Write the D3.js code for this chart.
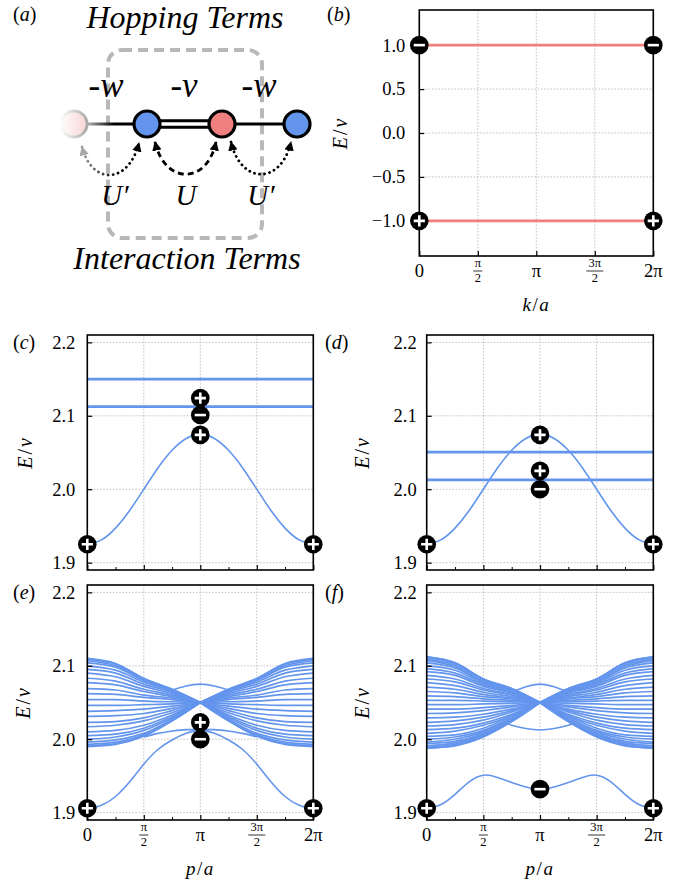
<!DOCTYPE html>
<html>
<head>
<meta charset="utf-8">
<script src="https://cdn.jsdelivr.net/npm/d3@7"></script>
<style>
body { margin: 0; background: #fff; }
svg { display: block; font-family: "Liberation Serif", "Times New Roman", serif; }
</style>
</head>
<body>
<svg id="fig" width="696" height="892"></svg>
<script>
const PI = Math.PI;

// ---- DATA -------------------------------------------------------------
const xTickVals = [0, PI / 2, PI, 3 * PI / 2, 2 * PI];
const xTickLabels = ["0", "\u03c0/2", "\u03c0", "3\u03c0/2", "2\u03c0"];
const xMinorVals = [PI / 4, 3 * PI / 4, 5 * PI / 4, 7 * PI / 4];
const bandP = [0, PI / 4, PI / 2, 3 * PI / 4, PI];          // left half, mirrored on the right
const curveP = [0, PI / 8, PI / 4, 3 * PI / 8, PI / 2, 5 * PI / 8, 3 * PI / 4, 7 * PI / 8, PI];

// (b) single particle bands
const bTicks = [-1.0, -0.5, 0.0, 0.5, 1.0];
const bLevels = [1.0, -1.0];
const bMarks = [
  {p: 0, E: 1.0, s: "-"}, {p: 2 * PI, E: 1.0, s: "-"},
  {p: 0, E: -1.0, s: "+"}, {p: 2 * PI, E: -1.0, s: "+"}
];

const twoTicks = [1.9, 2.0, 2.1, 2.2];

// (c)
const cLevels = [2.15, 2.1125];
const cCurve = [1.925, 1.931, 1.947, 1.971, 2.0, 2.029, 2.053, 2.069, 2.075];
const cMarks = [
  {p: 0, E: 1.925, s: "+"}, {p: 2 * PI, E: 1.925, s: "+"},
  {p: PI, E: 2.124, s: "+"}, {p: PI, E: 2.101, s: "-"}, {p: PI, E: 2.074, s: "+"}
];

// (d)
const dLevels = [2.0505, 2.0128];
const dCurve = [1.925, 1.931, 1.947, 1.971, 2.0, 2.029, 2.053, 2.069, 2.075];
const dMarks = [
  {p: 0, E: 1.925, s: "+"}, {p: 2 * PI, E: 1.925, s: "+"},
  {p: PI, E: 2.074, s: "+"}, {p: PI, E: 2.025, s: "+"}, {p: PI, E: 2.0, s: "-"}
];

// (e) two-particle continuum, energies at p = 0, pi/4, pi/2, 3pi/4, pi
const eBand = [
  [2.110, 2.103, 2.083, 2.068, 2.05], [2.109, 2.102, 2.082, 2.068, 2.05],
  [2.107, 2.100, 2.081, 2.067, 2.05], [2.104, 2.098, 2.080, 2.066, 2.05],
  [2.100, 2.094, 2.078, 2.065, 2.05], [2.095, 2.090, 2.075, 2.064, 2.05],
  [2.090, 2.085, 2.072, 2.062, 2.05], [2.083, 2.079, 2.068, 2.060, 2.05],
  [2.077, 2.074, 2.065, 2.058, 2.05], [2.069, 2.067, 2.060, 2.056, 2.05],
  [2.062, 2.061, 2.057, 2.054, 2.05], [2.054, 2.054, 2.052, 2.051, 2.05],
  [2.046, 2.046, 2.047, 2.048, 2.05], [2.038, 2.039, 2.041, 2.045, 2.05],
  [2.031, 2.032, 2.035, 2.042, 2.05], [2.023, 2.024, 2.029, 2.039, 2.05],
  [2.017, 2.019, 2.025, 2.036, 2.05], [2.010, 2.012, 2.019, 2.033, 2.05],
  [2.005, 2.007, 2.015, 2.031, 2.05], [2.000, 2.003, 2.012, 2.029, 2.05],
  [1.996, 1.999, 2.008, 2.027, 2.05], [1.993, 1.996, 2.006, 2.026, 2.05],
  [1.991, 1.994, 2.005, 2.025, 2.05], [1.990, 1.993, 2.004, 2.025, 2.05]
];
const eLow = [1.905, 1.910, 1.922, 1.942, 1.966, 1.986, 1.999, 2.008, 2.012];
const eMidP = [PI / 2, 5 * PI / 8, 3 * PI / 4, 7 * PI / 8, PI];
const eMid = [2.003, 2.008, 2.011, 2.013, 2.013];
const eTopP = [3 * PI / 4, 7 * PI / 8, PI];
const eTop = [2.067, 2.0725, 2.075];
const eMarks = [
  {p: 0, E: 1.906, s: "+"}, {p: 2 * PI, E: 1.906, s: "+"},
  {p: PI, E: 2.023, s: "+"}, {p: PI, E: 2.0, s: "-"}
];

// (f)
const fBand = [
  [2.112, 2.104, 2.082, 2.069, 2.05], [2.112, 2.104, 2.082, 2.069, 2.05],
  [2.111, 2.103, 2.082, 2.068, 2.05], [2.109, 2.101, 2.081, 2.068, 2.05],
  [2.107, 2.099, 2.079, 2.067, 2.05], [2.104, 2.097, 2.078, 2.066, 2.05],
  [2.100, 2.094, 2.076, 2.065, 2.05], [2.096, 2.090, 2.074, 2.064, 2.05],
  [2.092, 2.087, 2.072, 2.063, 2.05], [2.087, 2.082, 2.069, 2.061, 2.05],
  [2.082, 2.078, 2.067, 2.060, 2.05], [2.077, 2.073, 2.064, 2.058, 2.05],
  [2.071, 2.068, 2.061, 2.056, 2.05], [2.065, 2.063, 2.058, 2.055, 2.05],
  [2.059, 2.058, 2.055, 2.053, 2.05], [2.053, 2.053, 2.052, 2.051, 2.05],
  [2.047, 2.047, 2.048, 2.049, 2.05], [2.041, 2.041, 2.043, 2.046, 2.05],
  [2.035, 2.036, 2.039, 2.044, 2.05], [2.029, 2.030, 2.034, 2.041, 2.05],
  [2.023, 2.025, 2.030, 2.039, 2.05], [2.018, 2.020, 2.026, 2.037, 2.05],
  [2.013, 2.015, 2.022, 2.034, 2.05], [2.008, 2.011, 2.019, 2.032, 2.05],
  [2.004, 2.006, 2.015, 2.031, 2.05], [2.000, 2.003, 2.012, 2.029, 2.05],
  [1.996, 2.000, 2.010, 2.028, 2.05], [1.994, 1.997, 2.008, 2.026, 2.05],
  [1.991, 1.995, 2.006, 2.025, 2.05], [1.989, 1.993, 2.005, 2.025, 2.05],
  [1.988, 1.992, 2.004, 2.024, 2.05], [1.988, 1.991, 2.003, 2.024, 2.05]
];
const fLow = [1.905, 1.911, 1.925, 1.942, 1.951, 1.948, 1.941, 1.935, 1.932];
const fMidP = [0.7 * PI, 3 * PI / 4, 7 * PI / 8, PI];
const fMid = [2.022, 2.019, 2.0145, 2.0125];
const fTopP = [0.78 * PI, 7 * PI / 8, PI];
const fTop = [2.066, 2.0715, 2.075];
const fMarks = [
  {p: 0, E: 1.906, s: "+"}, {p: 2 * PI, E: 1.906, s: "+"},
  {p: PI, E: 1.932, s: "-"}
];

// ---- HELPERS ----------------------------------------------------------
const svg = d3.select("#fig");
const blue = "#6495ed", coral = "#f08080";
const serif = "'Liberation Serif', 'Times New Roman', serif";

// left half (ending at pi) + its mirror image
function mirror(ps, es) {
  const left = ps.map((p, i) => [p, es[i]]);
  const right = left.slice(0, -1).reverse().map(([p, e]) => [2 * PI - p, e]);
  return left.concat(right);
}

function panelLabel(x, y, letter) {
  const t = svg.append("text").attr("x", x).attr("y", y).attr("font-size", 20);
  t.append("tspan").text("(");
  t.append("tspan").attr("font-style", "italic").text(letter);
  t.append("tspan").text(")");
}

function mathLabel(sel, a, b) {
  sel.append("tspan").attr("font-style", "italic").text(a);
  sel.append("tspan").text("/");
  sel.append("tspan").attr("font-style", "italic").text(b);
}

function panel(o) {
  const g = svg.append("g").attr("transform", `translate(${o.x},${o.y})`);
  const x = d3.scaleLinear().domain([0, 2 * PI]).range([0, o.w]);
  const y = d3.scaleLinear().domain(o.yDomain).range([o.h, 0]);

  // grid
  g.append("g").selectAll("line").data(xTickVals).join("line")
    .attr("x1", d => x(d)).attr("x2", d => x(d)).attr("y1", 0).attr("y2", o.h)
    .attr("stroke", "#b4b4b4").attr("stroke-width", 0.8).attr("stroke-dasharray", "1.6,1.6");
  g.append("g").selectAll("line").data(o.yTicks).join("line")
    .attr("y1", d => y(d)).attr("y2", d => y(d)).attr("x1", 0).attr("x2", o.w)
    .attr("stroke", "#b4b4b4").attr("stroke-width", 0.8).attr("stroke-dasharray", "1.6,1.6");

  const clipId = "clip-" + o.id;
  g.append("clipPath").attr("id", clipId).append("rect").attr("width", o.w).attr("height", o.h);
  const plot = g.append("g").attr("clip-path", `url(#${clipId})`);

  const line = d3.line().x(d => x(d[0])).y(d => y(d[1]));

  // continuum lines: each half drawn separately so they cross at pi
  (o.band || []).forEach(row => {
    const left = bandP.map((p, i) => [p, row[i]]);
    const right = bandP.map((p, i) => [2 * PI - p, row[i]]).reverse();
    [left, right].forEach(pts => {
      plot.append("path").attr("d", line.curve(d3.curveMonotoneX)(pts))
        .attr("fill", "none").attr("stroke", blue).attr("stroke-width", 1.7);
    });
  });

  // flat levels
  plot.selectAll("line.lvl").data(o.levels || []).join("line").attr("class", "lvl")
    .attr("x1", 0).attr("x2", o.w).attr("y1", d => y(d)).attr("y2", d => y(d))
    .attr("stroke", o.levelColor || blue).attr("stroke-width", o.levelWidth || 2.8);

  // smooth curves
  (o.curves || []).forEach(c => {
    plot.append("path").attr("d", line.curve(d3.curveNatural)(mirror(c.p, c.E)))
      .attr("fill", "none").attr("stroke", blue).attr("stroke-width", 1.6);
  });

  // axes (ticks inward)
  const yAxis = d3.axisLeft(y).tickValues(o.yTicks).tickSizeInner(-5).tickSizeOuter(0)
    .tickPadding(o.yPad).tickFormat(d3.format(".1f"));
  const ya = g.append("g").call(yAxis);
  ya.select(".domain").remove();
  ya.attr("font-family", serif).attr("font-size", 18.5);
  ya.selectAll("line").attr("stroke-width", 1.2);

  const xa = g.append("g").attr("transform", `translate(0,${o.h})`)
    .call(d3.axisBottom(x).tickValues(xTickVals).tickSizeInner(-5).tickSizeOuter(0).tickFormat(""));
  xa.select(".domain").remove();
  xa.selectAll("line").attr("stroke-width", 1.2);
  if (o.minor) {
    const xm = g.append("g").attr("transform", `translate(0,${o.h})`)
      .call(d3.axisBottom(x).tickValues(xMinorVals).tickSizeInner(-3).tickSizeOuter(0).tickFormat(""));
    xm.select(".domain").remove();
    xm.selectAll("line").attr("stroke-width", 1);
  }

  // x tick labels
  if (o.xLabel) {
    xTickVals.forEach((v, i) => {
      const lab = xTickLabels[i];
      const cx = x(v);
      if (lab.includes("/")) {
        const [num, den] = lab.split("/");
        g.append("text").attr("x", cx).attr("y", o.h + 11).attr("text-anchor", "middle")
          .attr("font-size", 12.5).text(num);
        g.append("line").attr("x1", cx - (num.length > 1 ? 8.5 : 4.5)).attr("x2", cx + (num.length > 1 ? 8.5 : 4.5))
          .attr("y1", o.h + 15).attr("y2", o.h + 15).attr("stroke", "#000").attr("stroke-width", 0.8);
        g.append("text").attr("x", cx).attr("y", o.h + 26).attr("text-anchor", "middle")
          .attr("font-size", 12.5).text(den);
      } else {
        g.append("text").attr("x", cx).attr("y", o.h + 21).attr("text-anchor", "middle")
          .attr("font-size", 18.5).text(lab);
      }
    });
    const xl = g.append("text").attr("x", o.w / 2).attr("y", o.h + 55).attr("text-anchor", "middle")
      .attr("font-size", 19).attr("letter-spacing", 1.5);
    mathLabel(xl, o.xLabel[0], o.xLabel[1]);
  }

  // y label
  const yl = g.append("text").attr("transform", `translate(${o.yLabelX},${o.h / 2}) rotate(-90)`)
    .attr("text-anchor", "middle").attr("font-size", 20).attr("letter-spacing", 2);
  mathLabel(yl, "E", "v");

  // frame
  g.append("rect").attr("width", o.w).attr("height", o.h)
    .attr("fill", "none").attr("stroke", "#000").attr("stroke-width", 1.6);

  // parity markers
  const mk = g.selectAll("g.mk").data(o.marks).join("g").attr("class", "mk")
    .attr("transform", d => `translate(${x(d.p)},${y(d.E)})`);
  mk.append("circle").attr("r", 9.3).attr("fill", "#000");
  mk.append("path").attr("d", d => d.s === "+" ? "M-5.6,0H5.6M0,-5.6V5.6" : "M-5.6,0H5.6")
    .attr("stroke", "#fff").attr("stroke-width", 2.6);
}

// ---- PANELS -----------------------------------------------------------
panel({id: "b", x: 419.3, y: 10, w: 234, h: 246, yDomain: [-1.4, 1.4], yTicks: bTicks, yPad: 14,
  yLabelX: -72, levels: bLevels, levelColor: coral, levelWidth: 2.6, marks: bMarks,
  xLabel: ["k", "a"], minor: false});
panel({id: "c", x: 87.3, y: 335, w: 226, h: 235, yDomain: [1.89, 2.21], yTicks: twoTicks, yPad: 12,
  yLabelX: -55, levels: cLevels, curves: [{p: curveP, E: cCurve}], marks: cMarks, minor: true});
panel({id: "d", x: 426.7, y: 335, w: 226.6, h: 235, yDomain: [1.89, 2.21], yTicks: twoTicks, yPad: 10,
  yLabelX: -58, levels: dLevels, curves: [{p: curveP, E: dCurve}], marks: dMarks, minor: true});
panel({id: "e", x: 87.3, y: 585, w: 226, h: 235, yDomain: [1.89, 2.21], yTicks: twoTicks, yPad: 12,
  yLabelX: -57, band: eBand,
  curves: [{p: curveP, E: eLow}, {p: eMidP, E: eMid}, {p: eTopP, E: eTop}],
  marks: eMarks, xLabel: ["p", "a"], minor: true});
panel({id: "f", x: 426.7, y: 585, w: 226.6, h: 235, yDomain: [1.89, 2.21], yTicks: twoTicks, yPad: 10,
  yLabelX: -58, band: fBand,
  curves: [{p: curveP, E: fLow}, {p: fMidP, E: fMid}, {p: fTopP, E: fTop}],
  marks: fMarks, xLabel: ["p", "a"], minor: true});

panelLabel(13, 21, "a");
panelLabel(327, 21, "b");
panelLabel(13, 349, "c");
panelLabel(325, 349, "d");
panelLabel(13, 599, "e");
panelLabel(325, 599, "f");

// ---- PANEL (a): chain sketch ---------------------------------------------
const defs = svg.append("defs");
function grad(id, x1, x2, c1, c2) {
  const gr = defs.append("linearGradient").attr("id", id).attr("gradientUnits", "userSpaceOnUse")
    .attr("x1", x1).attr("x2", x2).attr("y1", 0).attr("y2", 0);
  gr.append("stop").attr("offset", 0).attr("stop-color", c1);
  gr.append("stop").attr("offset", 1).attr("stop-color", c2);
}
grad("fadeFill", 60, 88, "#ffffff", "#f9d3d3");
grad("fadeStroke", 60, 88, "#ffffff", "#a8a8a8");
grad("fadeBond", 88, 114, "#b0b0b0", "#000000");
grad("fadeArrow", 80, 118, "#a0a0a0", "#000000");

function head(id, color) {
  defs.append("marker").attr("id", id).attr("viewBox", "0 0 10 10").attr("refX", 9).attr("refY", 5)
    .attr("markerWidth", 3.4).attr("markerHeight", 3.4).attr("markerUnits", "strokeWidth")
    .attr("orient", "auto-start-reverse")
    .append("path").attr("d", "M0,0L10,5L0,10z").attr("fill", color);
}
head("hk", "#000");
head("hg", "#a8a8a8");

const A = svg.append("g");
// dashed unit-cell box
A.append("rect").attr("x", 108).attr("y", 50).attr("width", 154).attr("height", 188).attr("rx", 14)
  .attr("fill", "none").attr("stroke", "#b8b8b8").attr("stroke-width", 4).attr("stroke-dasharray", "10,6");

const chainY = 124;
A.append("line").attr("x1", 86).attr("x2", 140).attr("y1", chainY).attr("y2", chainY)
  .attr("stroke", "url(#fadeBond)").attr("stroke-width", 3);
A.append("line").attr("x1", 147).attr("x2", 222).attr("y1", chainY).attr("y2", chainY)
  .attr("stroke", "#000").attr("stroke-width", 9.5);
A.append("line").attr("x1", 147).attr("x2", 222).attr("y1", chainY).attr("y2", chainY)
  .attr("stroke", "#fff").attr("stroke-width", 3.5);
A.append("line").attr("x1", 222).attr("x2", 297).attr("y1", chainY).attr("y2", chainY)
  .attr("stroke", "#000").attr("stroke-width", 3);

A.append("circle").attr("cx", 74).attr("cy", chainY).attr("r", 13)
  .attr("fill", "url(#fadeFill)").attr("stroke", "url(#fadeStroke)").attr("stroke-width", 3);
[[147, blue], [222, coral], [297, blue]].forEach(([cx, c]) => {
  A.append("circle").attr("cx", cx).attr("cy", chainY).attr("r", 13)
    .attr("fill", c).attr("stroke", "#000").attr("stroke-width", 3.2);
});

// interaction arrows
A.append("path").attr("d", "M82,147 C92,185 128,185 139,143")
  .attr("fill", "none").attr("stroke", "url(#fadeArrow)").attr("stroke-width", 2.8)
  .attr("stroke-linecap", "round").attr("stroke-dasharray", "0.1,5")
  .attr("marker-start", "url(#hg)").attr("marker-end", "url(#hk)");
A.append("path").attr("d", "M155,142 C165,185 207,185 216,142")
  .attr("fill", "none").attr("stroke", "#000").attr("stroke-width", 2.8)
  .attr("stroke-dasharray", "6,4")
  .attr("marker-start", "url(#hk)").attr("marker-end", "url(#hk)");
A.append("path").attr("d", "M231,142 C241,185 281,185 291,142")
  .attr("fill", "none").attr("stroke", "#000").attr("stroke-width", 2.8)
  .attr("stroke-linecap", "round").attr("stroke-dasharray", "0.1,5")
  .attr("marker-start", "url(#hk)").attr("marker-end", "url(#hk)");

const itx = (x, y, s, t) => A.append("text").attr("x", x).attr("y", y).attr("text-anchor", "middle")
  .attr("font-size", s).attr("font-style", "italic").text(t);
itx(185, 28, 32, "Hopping Terms");
itx(187, 269, 32, "Interaction Terms");
itx(106, 97, 35, "-w");
itx(184, 97, 35, "-v");
itx(259, 97, 35, "-w");
itx(115, 205, 29, "U\u2032");
itx(186, 205, 29, "U");
itx(261, 205, 29, "U\u2032");
</script>
</body>
</html>
